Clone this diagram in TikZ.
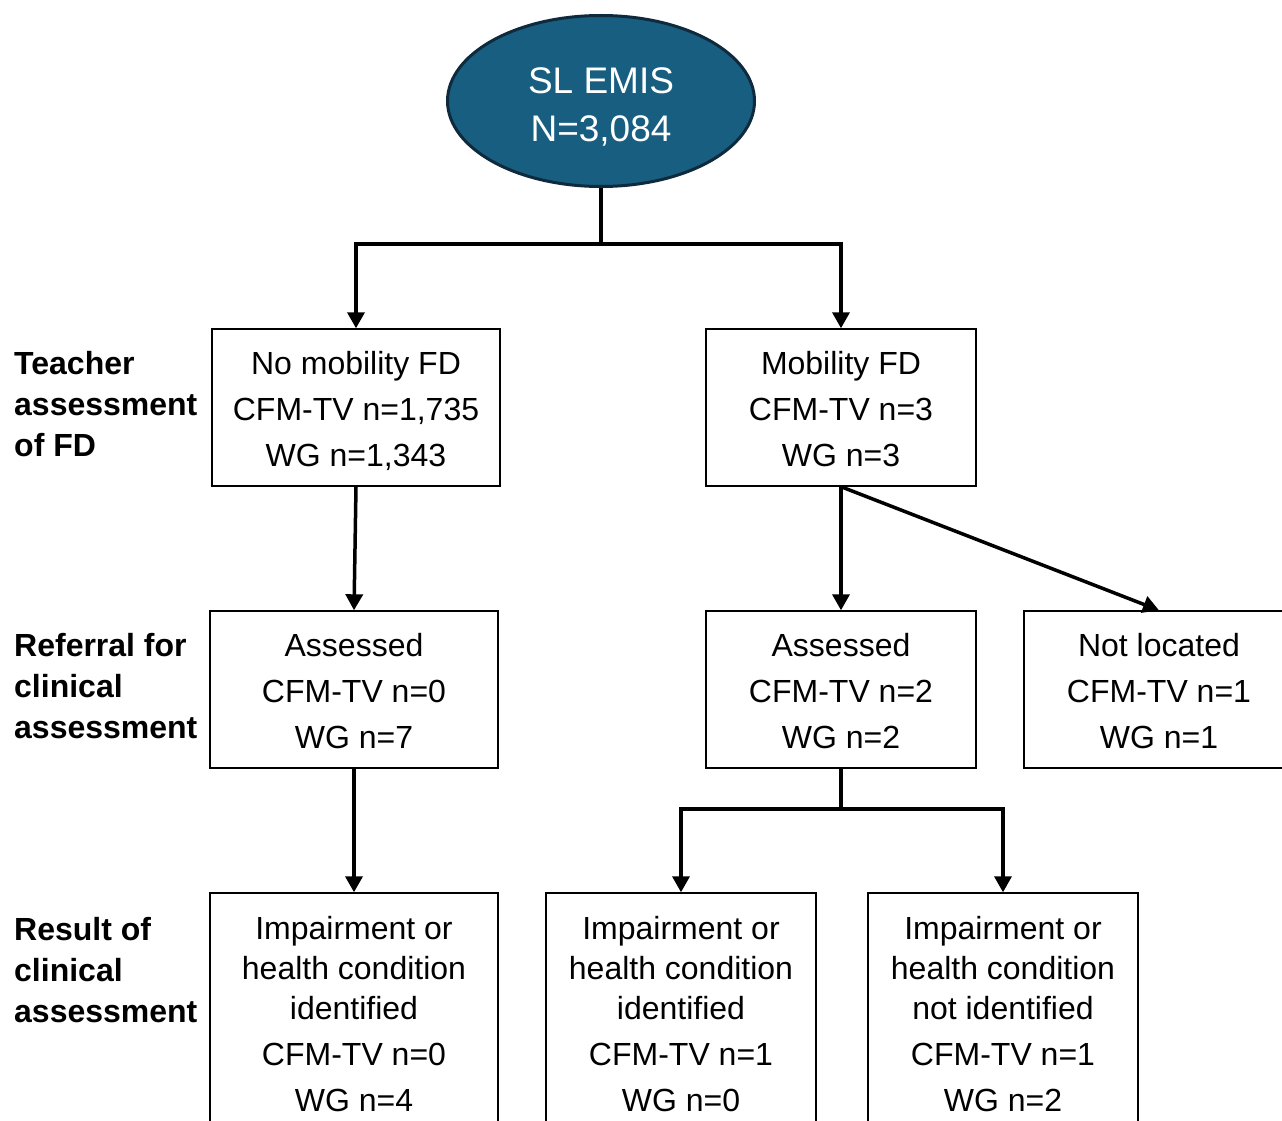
\documentclass[tikz,border=0pt]{standalone}
\usepackage{fontspec}
\setmainfont{Liberation Sans}
\usetikzlibrary{arrows.meta,shapes.geometric}
\definecolor{ellfill}{RGB}{24,94,128}
\definecolor{elldraw}{RGB}{14,42,60}
\newcommand{\topstrut}{\rule{0pt}{34pt}}
\newcommand{\botstrut}{\rule[-8pt]{0pt}{8pt}}
\begin{document}
\begin{tikzpicture}[x=1pt,y=-1pt,
  boxa/.style={draw=black, line width=1.4pt, inner sep=0pt, align=center,
    minimum height=157pt, font=\fontsize{32}{46}\selectfont},
  boxb/.style={draw=black, line width=1.4pt, inner sep=0pt, align=center,
    minimum height=242pt, font=\fontsize{32}{40}\selectfont},
  lab/.style={anchor=west, align=left, inner sep=0pt,
    font=\bfseries\fontsize{32}{41}\selectfont},
  conn/.style={line width=3.5pt},
  arr/.style={line width=3.5pt, -{Triangle[length=16pt,width=17pt]}}
]
\useasboundingbox (0,0) rectangle (1282,1121);
\clip (0,0) rectangle (1282,1121);

\node[ellipse, fill=ellfill, draw=elldraw, line width=3pt, minimum width=307pt,
  minimum height=171pt, inner sep=0pt, text=white, align=center,
  font=\fontsize{37}{48}\selectfont] (top) at (601,101) {\rule{0pt}{38pt}SL EMIS\\N=3,084};

\node[boxa, minimum width=288pt] (b1) at (356,407.5) {\topstrut No mobility FD\\CFM-TV n=1,735\\WG n=1,343\botstrut};
\node[boxa, minimum width=270pt] (b2) at (841,407.5) {\topstrut Mobility FD\\CFM-TV n=3\\WG n=3\botstrut};
\node[boxa, minimum width=288pt] (b3) at (354,689.5) {\topstrut Assessed\\CFM-TV n=0\\WG n=7\botstrut};
\node[boxa, minimum width=270pt] (b4) at (841,689.5) {\topstrut Assessed\\CFM-TV n=2\\WG n=2\botstrut};
\node[boxa, minimum width=270pt] (b5) at (1159,689.5) {\topstrut Not located\\CFM-TV n=1\\WG n=1\botstrut};
\node[boxb, minimum width=288pt] (b6) at (354,1014) {Impairment or\\health condition\\identified\\[6pt]CFM-TV n=0\\[6pt]WG n=4};
\node[boxb, minimum width=270pt] (b7) at (681,1014) {Impairment or\\health condition\\identified\\[6pt]CFM-TV n=1\\[6pt]WG n=0};
\node[boxb, minimum width=270pt] (b8) at (1003,1014) {Impairment or\\health condition\\not identified\\[6pt]CFM-TV n=1\\[6pt]WG n=2};

\node[lab] (l1) at (14,404) {Teacher\\assessment\\of FD};
\node[lab] (l2) at (14,686) {Referral for\\clinical\\assessment};
\node[lab] (l3) at (14,970) {Result of\\clinical\\assessment};

\coordinate (j1) at (601,244);
\coordinate (j2) at (841,809);
\draw[conn] (top.south) -- (j1);
\draw[arr] (j1) -| (b1.north);
\draw[arr] (j1) -| (b2.north);
\draw[arr] (b1.south) -- (b3.north);
\draw[arr] (b3.south) -- (b6.north);
\draw[arr] (b2.south) -- (b4.north);
\draw[arr] (b2.south) -- (b5.north);
\draw[conn] (b4.south) -- (j2);
\draw[arr] (j2) -| (b7.north);
\draw[arr] (j2) -| (b8.north);
\end{tikzpicture}
\end{document}
